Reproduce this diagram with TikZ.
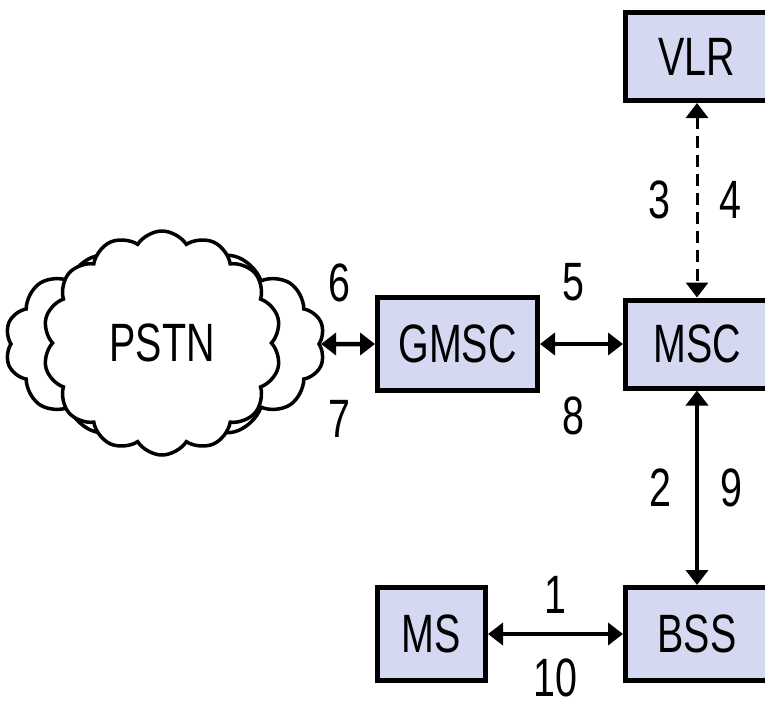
\documentclass[tikz,border=0pt]{standalone}
\usepackage{fontspec}
\setmainfont{Liberation Sans}
\usepackage{graphicx}
\usetikzlibrary{arrows.meta,positioning,shapes.symbols}
\definecolor{boxfill}{RGB}{212,216,240}
\newcommand{\nar}[1]{\scalebox{0.73}[1]{#1}}

\begin{document}
\begin{tikzpicture}[
    x=1pt, y=-1pt,
    font=\fontsize{54}{60}\selectfont,
    unit/.style={rectangle, draw, line width=5pt, fill=boxfill, inner sep=0pt, minimum width=143pt, minimum height=88pt},
    link/.style={{Triangle[width=22pt,length=15pt]}-{Triangle[width=22pt,length=15pt]}, line width=4.5pt},
    num/.style={inner sep=0pt},
    puff/.style={cloud, cloud puffs=14, cloud puff arc=115, cloud ignores aspect, draw, line width=3.5pt, fill=white, inner sep=0pt}
]
    \useasboundingbox (0,0) rectangle (765,705);

    % the network cloud, drawn twice
    \node[puff, minimum width=320pt, minimum height=195pt] (cloudback) at (165,344) {};
    \node[puff, minimum width=238pt, minimum height=224pt] (pstn) at (162,343) {\nar{PSTN}};

    \node[unit] (vlr) at (697,56.5) {\nar{VLR}};
    \node[unit] (msc) at (697,344) {\nar{MSC}};
    \node[unit, minimum width=160pt, minimum height=93pt] (gmsc) at (457.5,344) {\nar{GMSC}};
    \node[unit, minimum height=93pt] (bss) at (697,634) {\nar{BSS}};
    \node[unit, minimum width=108pt, minimum height=93pt] (ms) at (431.5,634) {\nar{MS}};

    \draw[link] (cloudback) -- node[num, pos=0.35, above=40pt] {\nar{6}} node[num, pos=0.35, below=54pt] {\nar{7}} (gmsc);
    \draw[link] (gmsc) -- node[num, pos=0.4, above=41pt] {\nar{5}} node[num, pos=0.4, below=51pt] {\nar{8}} (msc);
    \draw[link, line width=3pt, dash pattern=on 12pt off 7pt] (vlr) -- node[num, left=25pt] {\nar{3}} node[num, right=21pt] {\nar{4}} (msc);
    \draw[link, line width=4pt] (msc) -- node[num, left=24pt] {\nar{2}} node[num, right=21pt] {\nar{9}} (bss);
    \draw[link] (ms) -- node[num, above=18pt] {\nar{1}} node[num, below=23pt] {\nar{10}} (bss);
\end{tikzpicture}
\end{document}
